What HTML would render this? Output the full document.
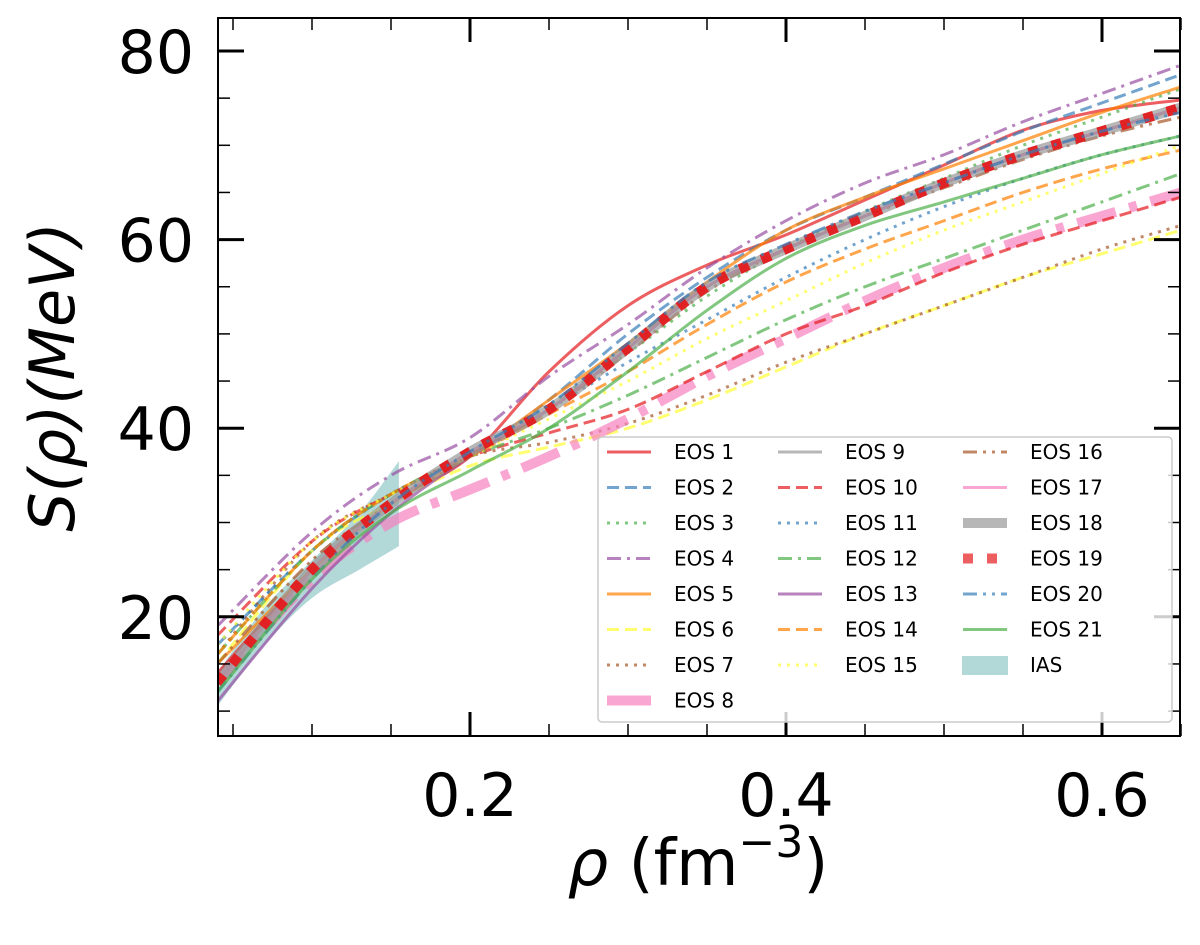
<!DOCTYPE html>
<html><head><meta charset="utf-8"><style>
body{margin:0;background:#fff;}
svg{display:block;font-family:"DejaVu Sans","Liberation Sans",sans-serif;}
</style></head><body>
<svg id="chart" width="1200" height="945"></svg>
<script>
const xGrid=[0.04,0.1,0.15,0.2,0.25,0.3,0.35,0.4,0.45,0.5,0.55,0.6,0.65];
const seriesNames=["EOS 1","EOS 2","EOS 3","EOS 4","EOS 5","EOS 6","EOS 7","EOS 8","EOS 9","EOS 10","EOS 11","EOS 12","EOS 13","EOS 14","EOS 15","EOS 16","EOS 17","EOS 18","EOS 19","EOS 20","EOS 21"];
const eos1=[14,25,32,37,46,53,57.3,60.5,64.2,67.9,71.6,73.7,74.8];
const eos2=[17,27,33,37,43,50,56,61,64.5,68,71.5,74.5,77.5];
const eos3=[16,27,33,37,42.5,48,54,59,63,66.5,70,73,76];
const eos4=[19,29,35,39,45.5,51,57,62,66,69,72.5,75.5,78.5];
const eos5=[15,25,32,37,43,49,55.5,61,64.5,67.5,70.5,73.5,76.2];
const eos6=[15,27,32,36,38,40,43,46.5,50,53,56,58.5,61];
const eos7=[16,28,33,37,38.5,40.5,43.5,47,50,53,56,59,61.5];
const eos8=[13,24,30,33.5,37,41,45.5,49.5,53.5,57,60,62.5,65];
const eos9=[13,25,32,37.5,42,48.5,55,59,62.5,66,69,71.5,74];
const eos10=[18,28,33,37,39.5,42,46,50,53,56.5,59.5,62,64.5];
const eos11=[17,27,33,37,42,47,51.5,56,60,63.5,66.5,69,71];
const eos12=[16,27,33,37,40,43.5,47.5,51.5,55,58,61,64,67];
const eos13=[11,23,31,37,42,48.5,55,59,62.5,66,69,71.5,74];
const eos14=[16,27,33,37,41.5,46,51,55.5,59,62,65,67.5,69.5];
const eos15=[17,28,33,37,41,45,49.5,53.5,57.5,61,64,67,70];
const eos16=[15,26,32,37,42,48,54.5,59,62.5,65.5,68.5,71,73];
const eos17=[13,25,32,37.5,42,48.5,55,59,62.5,66,69,71.5,74];
const eos18=[13,25,32,37.5,42,48.5,55,59,62.5,66,69,71.5,74];
const eos19=[13,25,32,37.5,42,48.5,55,59,62.5,66,69,71.5,74];
const eos20=[12,24,32,37.5,42.5,49,55.5,59.5,63,66,69,71.5,73.5];
const eos21=[12,24,31,35.5,40,46,52.5,58,61.5,64,66.5,69,71];
const iasX=[0.04,0.07,0.1,0.13,0.155];
const iasLow=[10.5,17,22,25,27.5];
const iasHigh=[14,21,26,31,36.5];
const xTicks=[0.2,0.4,0.6];
const yTicks=[20,40,60,80];

const NS="http://www.w3.org/2000/svg";
const svg=document.getElementById('chart');
const L=218,R=1180,T=18,B=736;
const X=v=>470+(v-0.2)*1580;
const Y=v=>51+(80-v)*9.43;
function mk(tag,at,parent){const e=document.createElementNS(NS,tag);for(const k in at)e.setAttribute(k,at[k]);(parent||svg).appendChild(e);return e;}
const defs=mk('defs',{});
const cp=mk('clipPath',{id:'clip'},defs);mk('rect',{x:L,y:T,width:R-L,height:B-T},cp);
const g=mk('g',{'clip-path':'url(#clip)'});



function smooth(xs,ys){
  const p=xs.map((x,i)=>[X(x),Y(ys[i])]);
  let d='M'+p[0][0]+','+p[0][1];
  for(let i=0;i<p.length-1;i++){
    const p0=p[i-1]||p[i],p1=p[i],p2=p[i+1],p3=p[i+2]||p2;
    const c1=[p1[0]+(p2[0]-p0[0])/6,p1[1]+(p2[1]-p0[1])/6];
    const c2=[p2[0]-(p3[0]-p1[0])/6,p2[1]-(p3[1]-p1[1])/6];
    d+=` C${c1[0]},${c1[1]} ${c2[0]},${c2[1]} ${p2[0]},${p2[1]}`;
  }
  return d;
}
(function(){
  let d=smooth(iasX,iasHigh);
  const rx=[...iasX].reverse(),rl=[...iasLow].reverse();
  d+=' L'+smooth(rx,rl).slice(1)+' Z';
  const band=mk('path',{d:d,fill:'#66b2b2','fill-opacity':0.5,stroke:'none'},g);
  
  
})();
const data=[eos1,eos2,eos3,eos4,eos5,eos6,eos7,eos8,eos9,eos10,eos11,eos12,eos13,eos14,eos15,eos16,eos17,eos18,eos19,eos20,eos21];
const C={r:'#e41a1c',b:'#377eb8',g:'#4daf4a',p:'#984ea3',o:'#ff7f00',y:'#ffff33',br:'#a65628',pk:'#f781bf',gr:'#999999'};
const styles=[
 [C.r,3,''],[C.b,3,'12,6'],[C.g,3,'3,6'],[C.p,3,'14,6,3,6'],[C.o,3,''],[C.y,3,'12,6'],[C.br,3,'3,6'],
 [C.pk,10,'40,14,8,14'],[C.gr,3,''],[C.r,3,'12,6'],[C.b,3,'3,6'],[C.g,3,'14,6,3,6'],[C.p,3,''],[C.o,3,'12,6'],
 [C.y,3,'3,6'],[C.br,3,'14,6,3,6,3,6'],[C.pk,3,''],[C.gr,10,''],[C.r,10,'10,14'],[C.b,3,'14,6,3,6,3,6'],[C.g,3,'']];
data.forEach((arr,i)=>{
  const s=styles[i];
  const p=mk('path',{d:smooth(xGrid,arr),fill:'none',stroke:s[0],'stroke-width':s[1],'stroke-dasharray':s[2],'stroke-opacity':i===18?0.95:0.7},g);
  
  
});
const fr=mk('rect',{x:L,y:T,width:R-L,height:B-T,fill:'none',stroke:'#000','stroke-width':2});


for(let v=0.05;v<=0.651;v+=0.05){
  const px=X(v);const major=xTicks.some(t=>Math.abs(t-v)<1e-6);
  const len=major?24:12;
  const t1=mk('line',{x1:px,x2:px,y1:B,y2:B-len,stroke:'#000','stroke-width':major?3:1.5});
  
  
  mk('line',{x1:px,x2:px,y1:T,y2:T+len,stroke:'#000','stroke-width':major?3:1.5});
}
xTicks.forEach(v=>{
  const t=mk('text',{x:X(v),y:816,'font-size':60,'text-anchor':'middle',fill:'#000'});
  t.textContent=v.toFixed(1);
  
  
});
for(let v=10;v<=80;v+=5){
  const py=Y(v);const major=yTicks.includes(v);
  const len=major?26:12;
  const t1=mk('line',{x1:L,x2:L+len,y1:py,y2:py,stroke:'#000','stroke-width':major?3:1.5});
  
  
  mk('line',{x1:R,x2:R-len,y1:py,y2:py,stroke:'#000','stroke-width':major?3:1.5});
}
yTicks.forEach(v=>{
  const t=mk('text',{x:194,y:Y(v)+22,'font-size':60,'text-anchor':'end',fill:'#000'});
  t.textContent=v;
  
  
});
const xl=mk('text',{x:698,y:885,'font-size':64,'text-anchor':'middle',fill:'#000'});
xl.innerHTML='<tspan font-style="italic">ρ</tspan> (fm<tspan font-size="44" dy="-28">−3</tspan><tspan dy="28">)</tspan>';


const yl=mk('text',{x:0,y:0,'font-size':62,'text-anchor':'middle',fill:'#000',transform:'translate(74,377) rotate(-90)','font-style':'italic'});
yl.innerHTML='S(ρ)(MeV)';


const lg=mk('g',{});


mk('rect',{x:598,y:437,width:574,height:285,rx:4,fill:'#fff','fill-opacity':0.8,stroke:'#ccc','stroke-width':1.5},lg);
const colX=[605,776,961],rowY=452,rowH=35.5;
const entries=seriesNames.map((n,i)=>({n,i})).concat([{n:'IAS',i:-1}]);
const cols=[[0,1,2,3,4,5,6,7],[8,9,10,11,12,13,14],[15,16,17,18,19,20,21]];
cols.forEach((col,ci)=>col.forEach((ei,ri)=>{
  const e=entries[ei];const y=rowY+ri*rowH;const x=colX[ci];
  const eg=mk('g',{},lg);
  
  
  if(e.i<0){mk('rect',{x:x+1,y:y-9,width:46,height:19,fill:'#66b2b2','fill-opacity':0.5},eg);}
  else{const s=styles[e.i];
    mk('line',{x1:x+2,x2:x+46,y1:y,y2:y,stroke:s[0],'stroke-width':s[1],'stroke-dasharray':s[2]==='40,14,8,14'?'':s[2],'stroke-opacity':0.7},eg);}
  const t=mk('text',{x:x+69,y:y+7,'font-size':20,fill:'#000'},eg);t.textContent=e.n;
}));
</script>
</body></html>
